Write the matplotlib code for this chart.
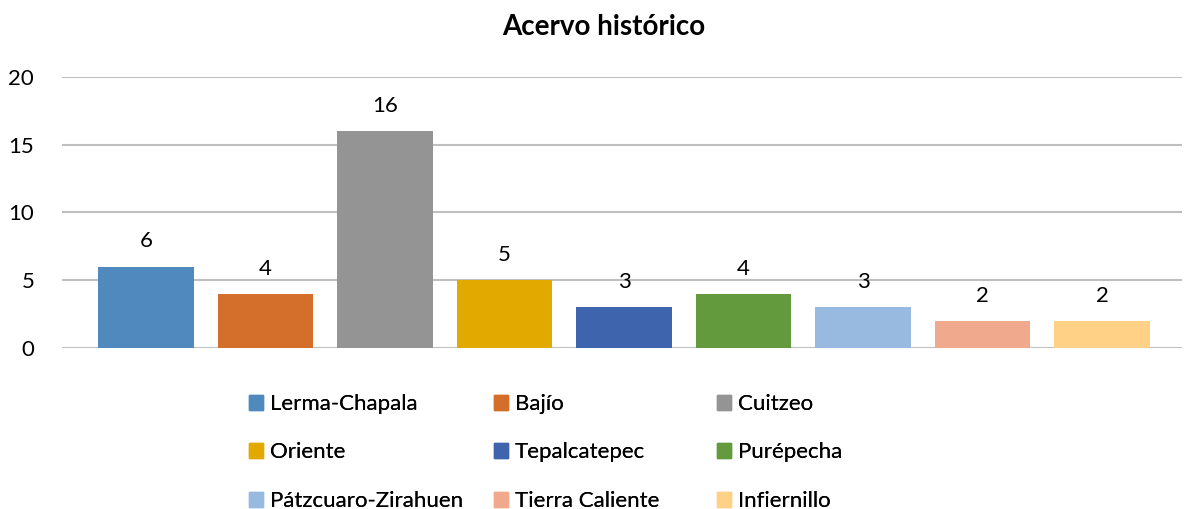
import matplotlib.pyplot as plt
from matplotlib.patches import Patch

plt.rcParams['font.family'] = ['Lato', 'DejaVu Sans']

regions = ['Lerma-Chapala', 'Bajío', 'Cuitzeo', 'Oriente', 'Tepalcatepec',
           'Purépecha', 'Pátzcuaro-Zirahuen', 'Tierra Caliente', 'Infiernillo']
values = [6, 4, 16, 5, 3, 4, 3, 2, 2]
colors = ['#4F89BD', '#D36E2B', '#949494', '#E2AA00', '#3D64AD',
          '#639A3D', '#98B9E0', '#F0A98C', '#FFD187']
yticks = [0, 5, 10, 15, 20]

fig = plt.figure(figsize=(11.84, 5.09), dpi=100)
ax = fig.add_axes([62 / 1184, 161 / 509, 1120 / 1184, 271 / 509])

pos = list(range(len(values)))
bars = ax.bar(pos, values, width=0.80, color=colors, zorder=3)
for b, v in zip(bars, values):
    ax.annotate(str(v), (b.get_x() + b.get_width() / 2, v), xytext=(0, 11),
                textcoords='offset points', ha='center', va='bottom', fontsize=16)

ax.set_xlim(-0.703, 8.669)
ax.set_ylim(0, 20)
ax.set_yticks(yticks)
ax.set_xticks([])
ax.tick_params(axis='y', length=0, labelsize=16, pad=20)
ax.yaxis.grid(True, color='#BFBFBF', linewidth=1.5, zorder=0)
for s in ax.spines.values():
    s.set_visible(False)

fig.text(604 / 1184, 1 - 27 / 509, 'Acervo histórico', ha='center', va='center',
         fontsize=20, fontweight='bold')

# legend: 3 rows x 3 columns, each column as its own legend (excel spacing)
col_x = [249, 494, 717]
for c in range(3):
    idx = [c, c + 3, c + 6]
    handles = [Patch(color=colors[i], label=regions[i]) for i in idx]
    leg = fig.legend(handles=handles, ncol=1, loc='upper left',
                     bbox_to_anchor=(col_x[c] / 1184, 1 - 394 / 509),
                     frameon=False, fontsize=16, handlelength=0.65, handleheight=0.65,
                     handletextpad=0.3, labelspacing=1.28, borderaxespad=0, borderpad=0)
    fig.add_artist(leg)

fig.savefig('out.png', dpi=100)
